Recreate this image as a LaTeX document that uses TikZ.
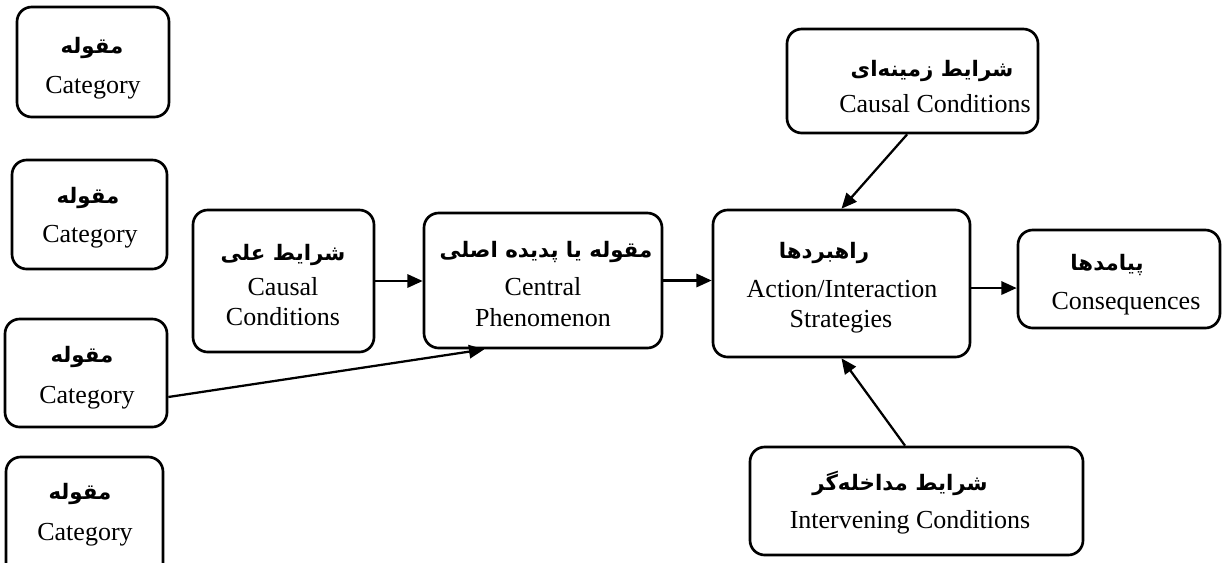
\documentclass[tikz,border=0pt]{standalone}
\usepackage{fontspec}
\setmainfont{Liberation Serif}
\newfontfamily\arabicfont[Script=Arabic]{DejaVu Sans}
\TeXXeTstate=1
\usetikzlibrary{arrows.meta,fit}
\tikzset{
  box/.style={draw, line width=2pt, rounded corners=11pt, inner sep=0pt},
  en/.style={font=\fontsize{19.5}{22.5}\selectfont, anchor=base, inner sep=0pt},
  fa/.style={font=\arabicfont\bfseries\fontsize{16}{18}\selectfont, anchor=base, inner sep=0pt},
  arr/.style={line width=1.7pt, -{Triangle[length=11.5pt,width=10pt]}}
}
\begin{document}
\begin{tikzpicture}[x=0.75pt,y=-0.75pt]
\useasboundingbox (0,0) rectangle (1222,562);
\clip (0,0) rectangle (1222,562);
% category boxes
\node[box, fit={(17,7)(169,117)}] (cat1) {};
\node[fa] (cat1fa) at (92,53) {\beginR مقوله\endR};
\node[en] (cat1en) at (93,93) {Category};
\node[box, fit={(12,160)(167,269)}] (cat2) {};
\node[fa] (cat2fa) at (88,203) {\beginR مقوله\endR};
\node[en] (cat2en) at (90,242) {Category};
\node[box, fit={(5,319)(167,427)}] (cat3) {};
\node[fa] (cat3fa) at (82,362) {\beginR مقوله\endR};
\node[en] (cat3en) at (87,403) {Category};
\node[box, fit={(6,457)(163,585)}] (cat4) {};
\node[fa] (cat4fa) at (80,499) {\beginR مقوله\endR};
\node[en] (cat4en) at (85,540) {Category};
% causal conditions
\node[box, fit={(193,210)(374,352)}] (causal) {};
\node[fa] (causalfa) at (283,260) {\beginR شرایط علی\endR};
\node[en] (causalen1) at (283,295) {Causal};
\node[en] (causalen2) at (283,325) {Conditions};
% central phenomenon
\node[box, fit={(424,213)(662,348)}] (central) {};
\node[fa] (centralfa) at (546,257) {\beginR مقوله یا پدیده اصلی\endR};
\node[en] (centralen1) at (543,295) {Central};
\node[en] (centralen2) at (543,326) {Phenomenon};
% contextual conditions
\node[box, fit={(787,29)(1038,133)}] (top) {};
\node[fa] (topfa) at (932,76) {\beginR شرایط زمینه‌ای\endR};
\node[en] (topen) at (935,112) {Causal Conditions};
% strategies
\node[box, fit={(713,210)(970,357)}] (strat) {};
\node[fa] (stratfa) at (824,258) {\beginR راهبردها\endR};
\node[en] (straten1) at (842,297) {Action/Interaction};
\node[en] (straten2) at (841,327) {Strategies};
% consequences
\node[box, fit={(1018,230)(1220,328)}] (cons) {};
\node[fa] (consfa) at (1107,270) {\beginR پیامدها\endR};
\node[en] (consen) at (1126,309) {Consequences};
% intervening
\node[box, fit={(750,447)(1083,555)}] (interv) {};
\node[fa] (intervfa) at (900,490) {\beginR شرایط مداخله‌گر\endR};
\node[en] (interven) at (910,528) {Intervening Conditions};
% connectors
\draw[arr] (causal.east) -- (causal.east -| central.west);
\draw[arr] (central.east) -- (central.east -| strat.west);
\coordinate (s1) at ([yshift=-3.4pt]strat.east);
\draw[arr] (s1) -- (s1 -| cons.west);
\draw[arr] ([yshift=-18pt]cat3.east) -- ([xshift=-44pt]central.south);
\draw[arr] ([xshift=-4pt]top.south) -- (strat.north);
\draw[arr] ([xshift=-8.6pt]interv.north) -- (strat.south);
\end{tikzpicture}
\end{document}
